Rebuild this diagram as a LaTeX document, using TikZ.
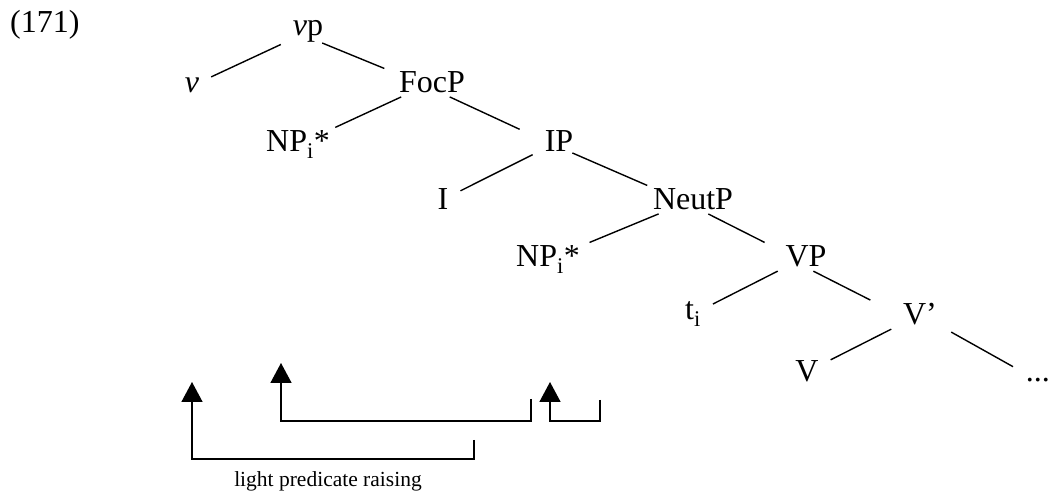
\documentclass[tikz,border=0pt]{standalone}
\usepackage{fontspec}
\setmainfont{Liberation Serif}
\usepackage{tikz}
\usetikzlibrary{arrows.meta, positioning}
\tikzstyle{cat} = [inner xsep=11pt, inner ysep=3pt, anchor=base, font=\fontsize{32}{38}\selectfont]
\tikzstyle{branch} = [line width=1.4pt, shorten <=1pt, shorten >=1pt]
\tikzstyle{rbranch} = [branch, transform canvas={xshift=-13pt}]
\tikzstyle{move} = [line width=1.6pt, -{Triangle[width=21pt, length=20pt]}]

\begin{document}
\begin{tikzpicture}[x=1pt, y=-1pt]
    \useasboundingbox (0,0) rectangle (1053,494);
    \node[cat, anchor=base west, inner xsep=0pt] (ex) at (10,33) {(171)};
    \node[cat] (vp) at (308,36) {\textit{v}p};
    \node[cat] (v) at (192,93) {\textit{v}};
    \node[cat] (focp) at (432,93) {FocP};
    \node[cat] (np1) at (298,152) {NP\textsubscript{i}*};
    \node[cat] (ip) at (559,152) {IP};
    \node[cat] (i) at (443,210) {I};
    \node[cat] (neutp) at (693,210) {NeutP};
    \node[cat] (np2) at (548,267) {NP\textsubscript{i}*};
    \node[cat] (vp2) at (806,267) {VP};
    \node[cat] (ti) at (693,320) {t\textsubscript{i}};
    \node[cat] (vbar) at (920,325) {V’};
    \node[cat] (verb) at (807,382) {V};
    \node[cat, anchor=base east, inner xsep=0pt] (dots) at (1050,382) {...};
    
    \draw[branch] (vp) -- (v);
    \draw[rbranch] (vp) -- (focp);
    \draw[branch] (focp) -- (np1);
    \draw[rbranch] (focp) -- (ip);
    \draw[branch] (ip) -- (i);
    \draw[rbranch] (ip) -- (neutp);
    \draw[branch] (neutp) -- (np2);
    \draw[rbranch] (neutp) -- (vp2);
    \draw[branch] (vp2) -- (ti);
    \draw[rbranch, transform canvas={xshift=-8pt}] (vp2) -- (vbar);
    \draw[branch] (vbar) -- (verb);
    \draw[branch, shorten <=7pt, shorten >=18pt] (vbar) -- (dots);
    
    % movement
    \coordinate (from1) at (474,440);
    \coordinate (to1) at (192,382);
    \coordinate (from2) at (531,399);
    \coordinate (to2) at (281,363);
    \coordinate (from3) at (600,400);
    \coordinate (to3) at (550,382);
    \draw[move] (from1) -- ++(0,19) -| (to1);
    \draw[move] (from2) -- ++(0,22) -| (to2);
    \draw[move] (from3) -- ++(0,21) -| (to3);
    \node[font=\fontsize{21.5}{26}\selectfont, anchor=base] (lpr) at (328,486) {light predicate raising};
\end{tikzpicture}
\end{document}
